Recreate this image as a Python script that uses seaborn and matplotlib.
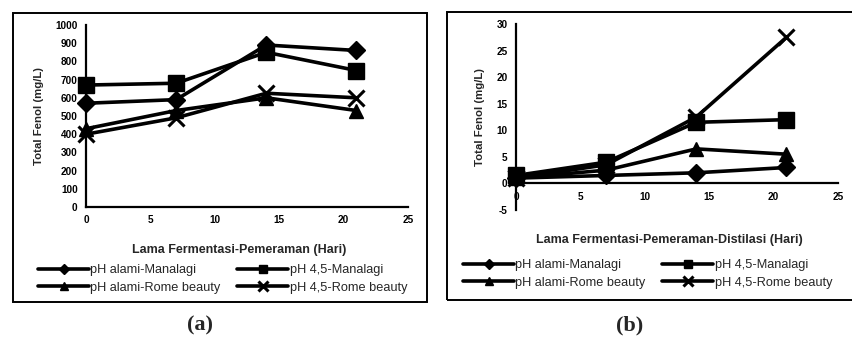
import matplotlib
matplotlib.use("Agg")
import matplotlib.pyplot as plt
import seaborn as sns
from matplotlib.patches import Rectangle

# data
days = [0, 7, 14, 21]
series_names = ["pH alami-Manalagi", "pH 4,5-Manalagi",
                "pH alami-Rome beauty", "pH 4,5-Rome beauty"]

# (a) fermentation - ripening
fenol_a_alami_manalagi = [570, 590, 890, 860]
fenol_a_45_manalagi = [670, 680, 850, 750]
fenol_a_alami_rome = [430, 530, 600, 530]
fenol_a_45_rome = [400, 490, 625, 600]

# (b) fermentation - ripening - distillation
fenol_b_alami_manalagi = [1.0, 1.5, 2.0, 3.0]
fenol_b_45_manalagi = [1.5, 4.0, 11.5, 12.0]
fenol_b_alami_rome = [1.0, 2.5, 6.5, 5.5]
fenol_b_45_rome = [1.0, 3.5, 12.5, 27.5]

xlabel_a = "Lama Fermentasi-Pemeraman (Hari)"
xlabel_b = "Lama Fermentasi-Pemeraman-Distilasi (Hari)"
ylabel = "Total Fenol (mg/L)"

sns.set_style("white")
plt.rcParams['font.family'] = ['Liberation Sans', 'DejaVu Sans']
plt.rcParams['axes.unicode_minus'] = False

markers = ["D", "s", "^", "x"]
msizes = [9, 11, 10, 12]

W, H = 852, 342
fig = plt.figure(figsize=(W / 100, H / 100), dpi=100)


def px_rect(x0, y0, x1, y1):
    # pixel box (from top-left) -> figure fraction [l, b, w, h]
    return [x0 / W, 1 - y1 / H, (x1 - x0) / W, (y1 - y0) / H]


def draw_panel(axrect, boxrect, data, ylim, yticks, xlabel, xlabel_y,
               leg_x, leg_y, tag, tag_x, zero_axis=False):
    l, b, w, h = px_rect(*boxrect)
    fig.patches.append(Rectangle((l, b), w, h, transform=fig.transFigure,
                                 fill=False, edgecolor="black", linewidth=1.4))
    ax = fig.add_axes(px_rect(*axrect))
    for vals, name, m, ms in zip(data, series_names, markers, msizes):
        sns.lineplot(x=days, y=vals, ax=ax, color="black", linewidth=2.6,
                     marker=m, markersize=ms, markeredgewidth=2.2 if m == "x" else 1,
                     markeredgecolor="black", label=name, legend=False,
                     clip_on=False)
    ax.set_xlim(0, 25)
    ax.set_ylim(*ylim)
    ax.set_xticks([0, 5, 10, 15, 20, 25])
    ax.set_yticks(yticks)
    for s in ["top", "right"]:
        ax.spines[s].set_visible(False)
    for s in ["left", "bottom"]:
        ax.spines[s].set_linewidth(1.6)
        ax.spines[s].set_color("black")
    if zero_axis:
        ax.spines["bottom"].set_position(("data", 0))
    ax.tick_params(axis="both", direction="out", length=3, width=1.2,
                   labelsize=7.2, pad=3, colors="black")
    for t in ax.get_xticklabels() + ax.get_yticklabels():
        t.set_fontweight("bold")
    ax.set_ylabel(ylabel, fontsize=8.2, fontweight="bold", labelpad=8)
    cx = (axrect[0] + axrect[2]) / 2 - 8
    fig.text(cx / W, 1 - xlabel_y / H, xlabel, ha="center", va="center",
             fontsize=9, fontweight="bold")
    handles, labels = ax.get_legend_handles_labels()
    order = [0, 2, 1, 3]
    fig.legend([handles[i] for i in order], [labels[i] for i in order],
               ncol=2, loc="center left",
               bbox_to_anchor=(leg_x / W, 1 - leg_y / H),
               frameon=False, fontsize=9.2, markerscale=0.55,
               handlelength=4.0, handletextpad=0.1, columnspacing=1.3,
               labelspacing=0.45, borderaxespad=0, borderpad=0)
    fig.text(tag_x / W, 1 - 325 / H, tag, ha="center", va="center",
             fontsize=16, fontweight="bold", family="Liberation Serif")
    return ax


draw_panel((86, 25, 408, 207), (13, 13, 427, 302),
           [fenol_a_alami_manalagi, fenol_a_45_manalagi,
            fenol_a_alami_rome, fenol_a_45_rome],
           (0, 1000), list(range(0, 1001, 100)), xlabel_a, 250, 38, 279,
           "(a)", 200)

draw_panel((516, 24, 838, 210), (447, 12, 860, 300),
           [fenol_b_alami_manalagi, fenol_b_45_manalagi,
            fenol_b_alami_rome, fenol_b_45_rome],
           (-5, 30), list(range(-5, 31, 5)), xlabel_b, 240, 463, 274,
           "(b)", 630, zero_axis=True)

fig.savefig("out.png", dpi=100)
